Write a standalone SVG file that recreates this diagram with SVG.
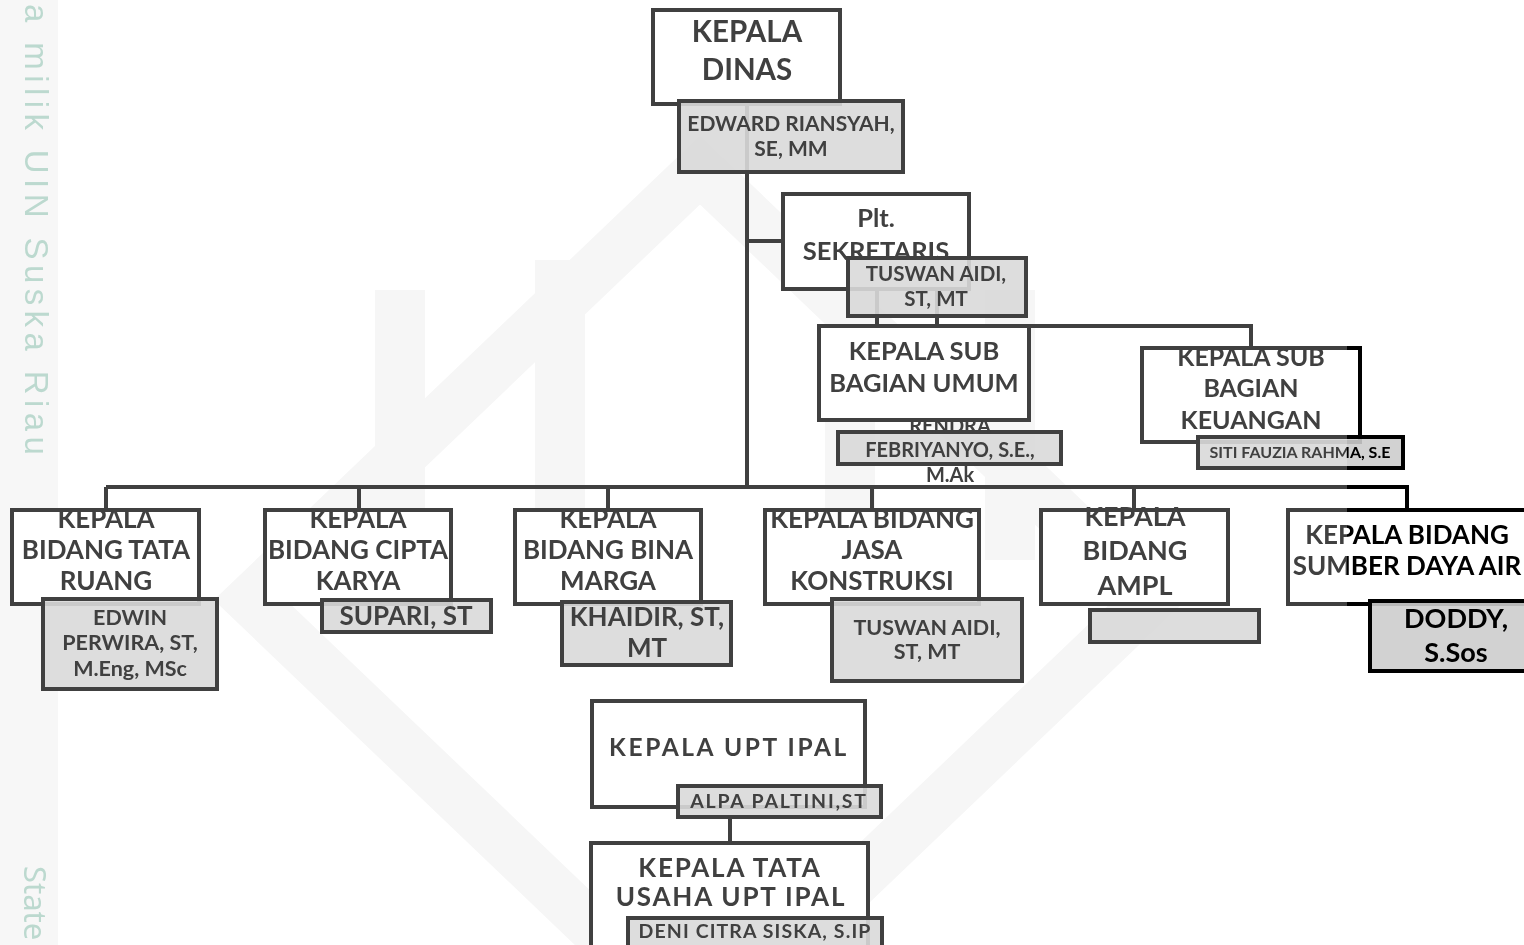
<svg xmlns="http://www.w3.org/2000/svg" width="1524" height="945" viewBox="0 0 1524 945">
<style>
.bx{fill:#ffffff;stroke:#404040;stroke-width:4}
.ov{fill:none;stroke:#404040;stroke-width:4}
.nm{fill:#d9d9d9;fill-opacity:0.9;stroke:#404040;stroke-width:4}
.t{font-family:Lato,"Liberation Sans",sans-serif;font-weight:bold;fill:#404040;text-anchor:middle}
.ln{fill:none;stroke:#404040;stroke-width:4}
.wm{fill:none;stroke:#f6f6f6;stroke-width:50}
.side{font-family:'Liberation Sans',sans-serif;fill:#bcd9cf}
</style>
<rect x="0" y="0" width="1524" height="945" fill="#ffffff"/>
<g id="watermark">
<rect x="0" y="0" width="58" height="945" fill="#f7f7f7"/>
<path class="wm" d="M700 170 L1150 600 L700 1030 L250 600 Z"/>
<path class="wm" d="M400 290 V560 M560 260 V520 M850 260 V520 M1010 290 V560"/>
<text class="side" x="25" y="4" transform="rotate(90 25 4)" font-size="33" letter-spacing="5.4">a milik UIN Suska Riau</text>
<text class="side" x="24" y="866" transform="rotate(90 24 866)" font-size="31" style="font-family:'Noto Sans',sans-serif">State</text>
</g>
<g id="connectors">
<path class="ln" d="M747 104 V487 M747 241 H783"/>
<path class="ln" d="M106 487 H1409 M106 487 V510 M359 487 V510 M608 487 V510 M872 487 V510 M1134 487 V510 M1407 487 V510"/>
<path class="ln" d="M877 289 V326 M937 289 V326 M877 326 H1251 V348"/>
<path class="ln" d="M730 817 V843"/>
</g>
<g id="kepala-dinas">
<rect class="bx" x="653" y="10" width="187" height="94"/>
<text class="t" x="747" y="42" font-size="29.5">KEPALA</text>
<text class="t" x="747" y="80" font-size="29.5">DINAS</text>
<rect class="nm" x="679" y="101" width="224" height="71"/>
<text class="t" x="791" y="131" font-size="21">EDWARD RIANSYAH,</text>
<text class="t" x="791" y="156" font-size="21">SE, MM</text>
</g>
<g id="sekretaris">
<rect class="bx" x="783" y="194" width="186" height="95"/>
<text class="t" x="876" y="227" font-size="25.5">Plt.</text>
<text class="t" x="876" y="260" font-size="25.5">SEKRETARIS</text>
<rect class="nm" x="848" y="258" width="178" height="58"/>
<text class="t" x="936" y="281" font-size="20.5">TUSWAN AIDI,</text>
<text class="t" x="936" y="306" font-size="20.5">ST, MT</text>
</g>
<g id="subbag-umum">
<rect class="nm" x="838" y="432" width="223" height="32"/>
<text class="t" x="950" y="433" font-size="20">RENDRA</text>
<text class="t" x="950" y="457" font-size="20">FEBRIYANYO, S.E.,</text>
<text class="t" x="950" y="482" font-size="20">M.Ak</text>
<rect class="bx" x="819" y="326" width="210" height="94"/>
<text class="t" x="924" y="360" font-size="25.5">KEPALA SUB</text>
<text class="t" x="924" y="392" font-size="25.5">BAGIAN UMUM</text>
</g>
<g id="subbag-keuangan">
<rect class="bx" x="1142" y="348" width="218" height="94"/>
<text class="t" x="1251" y="366" font-size="25">KEPALA SUB</text>
<text class="t" x="1251" y="397" font-size="25">BAGIAN</text>
<text class="t" x="1251" y="429" font-size="25">KEUANGAN</text>
<rect class="ov" x="1142" y="348" width="218" height="94"/>
<rect class="nm" x="1198" y="437" width="205" height="31"/>
<text class="t" x="1300" y="458" font-size="16">SITI FAUZIA RAHMA, S.E</text>
</g>
<g id="bidang-tata-ruang">
<rect class="bx" x="12" y="510" width="187" height="94"/>
<text class="t" x="106" y="528" font-size="26">KEPALA</text>
<text class="t" x="106" y="559" font-size="26">BIDANG TATA</text>
<text class="t" x="106" y="590" font-size="26">RUANG</text>
<rect class="ov" x="12" y="510" width="187" height="94"/>
<rect class="nm" x="43" y="599" width="174" height="90"/>
<text class="t" x="130" y="625" font-size="21.5">EDWIN</text>
<text class="t" x="130" y="650" font-size="21.5">PERWIRA, ST,</text>
<text class="t" x="130" y="676" font-size="21.5">M.Eng, MSc</text>
</g>
<g id="bidang-cipta-karya">
<rect class="bx" x="265" y="510" width="186" height="94"/>
<text class="t" x="358" y="528" font-size="26">KEPALA</text>
<text class="t" x="358" y="559" font-size="26">BIDANG CIPTA</text>
<text class="t" x="358" y="590" font-size="26">KARYA</text>
<rect class="ov" x="265" y="510" width="186" height="94"/>
<rect class="nm" x="322" y="600" width="169" height="32"/>
<text class="t" x="406" y="625" font-size="26">SUPARI, ST</text>
</g>
<g id="bidang-bina-marga">
<rect class="bx" x="515" y="510" width="186" height="94"/>
<text class="t" x="608" y="528" font-size="26">KEPALA</text>
<text class="t" x="608" y="559" font-size="26">BIDANG BINA</text>
<text class="t" x="608" y="590" font-size="26">MARGA</text>
<rect class="ov" x="515" y="510" width="186" height="94"/>
<rect class="nm" x="562" y="602" width="169" height="63"/>
<text class="t" x="647" y="626" font-size="26">KHAIDIR, ST,</text>
<text class="t" x="647" y="657" font-size="26">MT</text>
</g>
<g id="bidang-jasa-konstruksi">
<rect class="bx" x="765" y="510" width="214" height="94"/>
<text class="t" x="872" y="528" font-size="26">KEPALA BIDANG</text>
<text class="t" x="872" y="559" font-size="26">JASA</text>
<text class="t" x="872" y="590" font-size="26">KONSTRUKSI</text>
<rect class="ov" x="765" y="510" width="214" height="94"/>
<rect class="nm" x="832" y="599" width="190" height="82"/>
<text class="t" x="927" y="635" font-size="21.5">TUSWAN AIDI,</text>
<text class="t" x="927" y="659" font-size="21.5">ST, MT</text>
</g>
<g id="bidang-ampl">
<rect class="bx" x="1041" y="510" width="187" height="94"/>
<text class="t" x="1135" y="526" font-size="27">KEPALA</text>
<text class="t" x="1135" y="560" font-size="27">BIDANG</text>
<text class="t" x="1135" y="595" font-size="27">AMPL</text>
<rect class="ov" x="1041" y="510" width="187" height="94"/>
<rect class="nm" x="1090" y="610" width="169" height="32"/>
</g>
<g id="bidang-sda">
<rect class="bx" x="1288" y="510" width="240" height="94"/>
<text class="t" x="1407" y="544" font-size="26">KEPALA BIDANG</text>
<text class="t" x="1407" y="575" font-size="26">SUMBER DAYA AIR</text>
<rect class="nm" x="1370" y="601" width="160" height="70"/>
<text class="t" x="1456" y="628" font-size="27">DODDY,</text>
<text class="t" x="1456" y="662" font-size="27">S.Sos</text>
</g>
<g id="upt-ipal">
<rect class="bx" x="592" y="701" width="273" height="106"/>
<text class="t" x="729" y="756" font-size="24.5" letter-spacing="2.6">KEPALA  UPT IPAL</text>
<rect class="nm" x="678" y="786" width="203" height="31"/>
<text class="t" x="779" y="808" font-size="19.5" letter-spacing="1.8">ALPA PALTINI,ST</text>
</g>
<g id="tata-usaha-upt">
<rect class="bx" x="591" y="843" width="277" height="110"/>
<text class="t" x="730" y="877" font-size="26" letter-spacing="1.8">KEPALA  TATA</text>
<text class="t" x="731" y="906" font-size="26" letter-spacing="1.8">USAHA UPT IPAL</text>
<rect class="nm" x="628" y="918" width="254" height="35"/>
<text class="t" x="755" y="938" font-size="19.5" letter-spacing="1.1">DENI CITRA SISKA, S.IP</text>
</g>
<rect id="dark-scan-region" x="1347" y="340" width="177" height="340" fill="#bfbfbf" style="mix-blend-mode:color-burn"/>
</svg>
